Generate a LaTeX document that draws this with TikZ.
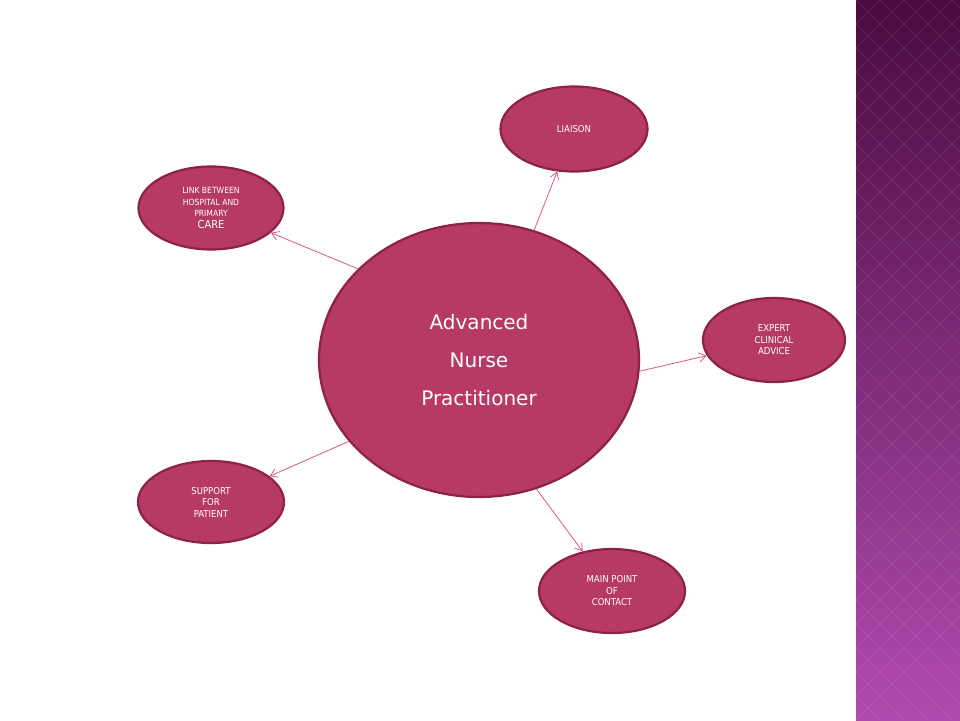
\documentclass[tikz,border=0pt]{standalone}
\usepackage{fontspec}
\setmainfont{DejaVu Sans}
\newfontfamily\cond{DejaVu Sans Condensed}
\usetikzlibrary{shapes.geometric,arrows.meta}
\definecolor{fillc}{HTML}{B73A63}
\definecolor{edgec}{HTML}{8C2246}
\definecolor{arrc}{HTML}{D45C80}
\definecolor{bandtop}{HTML}{4A0B40}
\definecolor{bandbot}{HTML}{B04AAE}
\tikzset{
 bub/.style={ellipse,fill=fillc,draw=edgec,line width=2.2pt,text=white,align=center,inner sep=0pt,font=\cond\fontsize{9.5}{11.5}\selectfont},
 conn/.style={draw=arrc,line width=0.8pt,-{Straight Barb[length=7pt,width=9pt]}}
}
\begin{document}
\begin{tikzpicture}[x=1pt,y=-1pt]
\useasboundingbox (0,0) rectangle (960,720);
\fill[white] (0,0) rectangle (960,720);
\shade[top color=bandtop,bottom color=bandbot] (856,0) rectangle (960,720);
\begin{scope}
\clip (856,0) rectangle (960,720);
\foreach \i in {-30,...,30}{
  \draw[white,opacity=0.08,line width=0.8pt] (856+\i*24,0) -- ++(720,720);
  \draw[white,opacity=0.08,line width=0.8pt] (856+\i*24,0) -- ++(-720,720);
}
\end{scope}
\node[bub,minimum width=320,minimum height=274,font=\fontsize{20}{30}\selectfont] (c) at (479,360) {Advanced\\[8pt]Nurse\\[8pt]Practitioner};
\node[bub,minimum width=147,minimum height=85] (li) at (574,129) {LIAISON};
\node[bub,minimum width=145,minimum height=83] (lk) at (211,208) {\fontsize{8.5}{10}\selectfont LINK BETWEEN\\\fontsize{8.5}{10}\selectfont HOSPITAL AND\\\fontsize{8.5}{10}\selectfont PRIMARY\\\fontsize{11}{12}\selectfont CARE};
\node[bub,minimum width=142,minimum height=84] (ex) at (774,340) {EXPERT\\CLINICAL\\ADVICE};
\node[bub,minimum width=146,minimum height=82] (su) at (211,502) {SUPPORT\\FOR\\PATIENT};
\node[bub,minimum width=146,minimum height=84] (mp) at (612,591) {MAIN POINT\\OF\\CONTACT};
\draw[conn] (c.67) -- (li);
\draw[conn] (c.143) -- (lk);
\draw[conn] (c.-4) -- (ex);
\draw[conn] (c.-148) -- (su);
\draw[conn] (c.-66) -- (mp);
\end{tikzpicture}
\end{document}
